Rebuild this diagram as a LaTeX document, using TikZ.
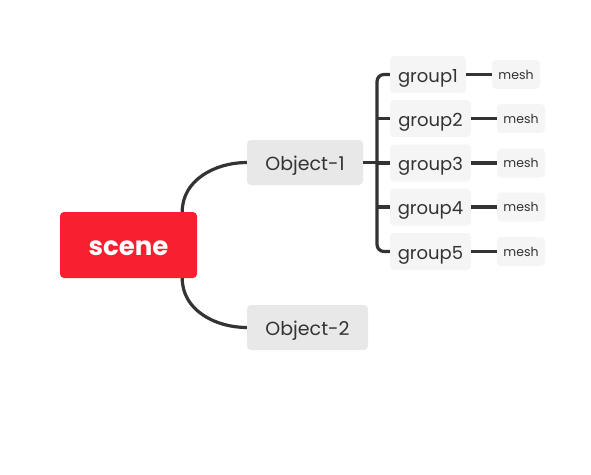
\documentclass[tikz,border=0pt]{standalone}
\usepackage{fontspec}
\setmainfont{Poppins}
\usetikzlibrary{calc}
\definecolor{scenered}{RGB}{248,32,48}
\definecolor{objfill}{RGB}{232,232,232}
\definecolor{grpfill}{RGB}{245,245,245}
\definecolor{linec}{RGB}{51,51,51}
\definecolor{txt}{RGB}{51,51,51}
\tikzset{
  base/.style={rounded corners=4pt, inner sep=0pt, text=txt, text depth=0pt},
  scenebox/.style={base, fill=scenered, text=white, minimum width=137pt, minimum height=66pt, text height=20pt, font=\fontsize{26}{28}\selectfont\bfseries},
  objbox/.style={base, fill=objfill, minimum height=45pt, text height=15pt, font=\fontsize{19}{21}\selectfont},
  grpbox/.style={base, fill=grpfill, minimum height=37pt, text height=15.5pt, font=\fontsize{18}{21}\selectfont},
  meshbox/.style={base, fill=grpfill, minimum height=29pt, minimum width=48pt, text height=9.5pt, font=\fontsize{12.5}{14}\selectfont},
  conn/.style={draw=linec, line width=3.2pt},
}
\begin{document}
\begin{tikzpicture}[x=1pt,y=-1pt]
\useasboundingbox (0,0) rectangle (591,474);
\node[scenebox] (scene) at (128.5,245) {scene};
\node[objbox, minimum width=116pt] (o1) at (305,162.5) {Object-1};
\node[objbox, minimum width=121pt] (o2) at (307.5,327.5) {Object-2};
\node[grpbox, minimum width=76pt] (g1) at (428,74.5) {group1};
\node[grpbox, minimum width=81pt] (g2) at (430.5,118.5) {group2};
\node[grpbox, minimum width=81pt] (g3) at (430.5,163) {group3};
\node[grpbox, minimum width=81pt] (g4) at (430.5,207) {group4};
\node[grpbox, minimum width=81pt] (g5) at (430.5,251.5) {group5};
\node[meshbox] (m1) at (516,74.5) {mesh};
\node[meshbox] (m2) at (521,118.5) {mesh};
\node[meshbox] (m3) at (521,163) {mesh};
\node[meshbox] (m4) at (521,207) {mesh};
\node[meshbox] (m5) at (521,251.5) {mesh};
\coordinate (s1) at ($(scene.north east)+(-15,0)$);
\coordinate (s2) at ($(scene.south east)+(-15,0)$);
\coordinate (bx) at (377,162.5);
\draw[conn] (s1) to[out=90,in=180] (o1.west);
\draw[conn] (s2) to[out=-90,in=180] (o2.west);
\draw[conn] (o1.east) -- (bx);
\draw[conn, rounded corners=7pt] (g1.west) -- (g1.west -| bx) -- (g5.west -| bx) -- (g5.west);
\draw[conn] (g2.west -| bx) -- (g2.west);
\draw[conn] (g3.west -| bx) -- (g3.west);
\draw[conn] (g4.west -| bx) -- (g4.west);
\foreach \i in {1,...,5} {\draw[conn] (g\i.east) -- (m\i.west);}
\end{tikzpicture}
\end{document}
